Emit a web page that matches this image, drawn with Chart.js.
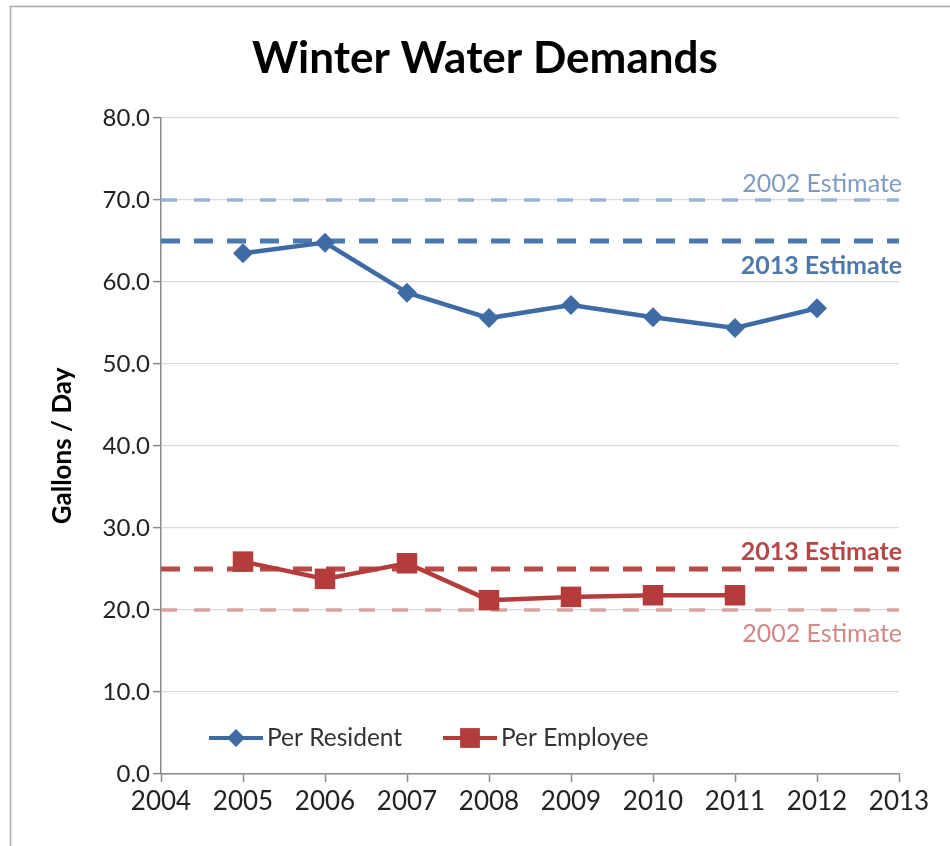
<!DOCTYPE html>
<html>
<head>
<meta charset="utf-8">
<title>Winter Water Demands</title>
<script src="https://cdn.jsdelivr.net/npm/chart.js@4.4.1/dist/chart.umd.min.js"></script>
<style>
  html, body { margin: 0; padding: 0; background: #fff; }
  #wrap { width: 950px; height: 846px; }
</style>
</head>
<body>
<div id="wrap"><canvas id="demandChart" width="950" height="846"></canvas></div>
<script>
// gallons per day, winter readings
const YEARS = [2005, 2006, 2007, 2008, 2009, 2010, 2011, 2012];
const PER_RESIDENT = [63.5, 64.8, 58.7, 55.6, 57.2, 55.7, 54.4, 56.8];
const PER_EMPLOYEE = [25.9, 23.8, 25.7, 21.2, 21.6, 21.8, 21.8]; // nothing for 2012 yet
const SERIES_NAMES = ['Per Resident', 'Per Employee'];

// planning estimates drawn as dashed reference lines
const EST_NAMES = ['2002 Estimate', '2013 Estimate', '2013 Estimate', '2002 Estimate'];
const EST_VALUES = [70, 65, 25, 20];

const X_MIN = 2004, X_MAX = 2013;
const Y_MIN = 0, Y_MAX = 80, Y_STEP = 10;

const FONT = 'Lato, "Open Sans", sans-serif';
const BLUE = '#3e6ba6';
const RED = '#b43c3b';

// look of each estimate line + where its caption sits (px from the line)
const estStyle = [
  { color: '#9bb5d6', text: '#7f9cc0', width: 3.5, dash: [16, 17], bold: false, dy: -16 },
  { color: '#4a78b0', text: '#4f78aa', width: 5, dash: [19, 14], bold: true, dy: 25 },
  { color: '#b84a48', text: '#b54846', width: 5, dash: [19, 14], bold: true, dy: -17 },
  { color: '#d9a3a2', text: '#cf8987', width: 3.5, dash: [16, 17], bold: false, dy: 24 }
];

const toPoints = (xs, ys) => ys.map((y, i) => ({ x: xs[i], y }));

const estDatasets = EST_VALUES.map((v, i) => ({
  label: EST_NAMES[i],
  data: [{ x: X_MIN, y: v }, { x: X_MAX, y: v }],
  borderColor: estStyle[i].color,
  borderWidth: estStyle[i].width,
  borderDash: estStyle[i].dash,
  pointRadius: 0,
  order: 2
}));

// white background + the thin frame on the left/top
const framePlugin = {
  id: 'frame',
  beforeDraw(chart) {
    const ctx = chart.ctx;
    ctx.save();
    ctx.fillStyle = '#fff';
    ctx.fillRect(0, 0, chart.width, chart.height);
    ctx.strokeStyle = '#a8a8a8';
    ctx.lineWidth = 1.5;
    ctx.beginPath();
    ctx.moveTo(10.5, chart.height);
    ctx.lineTo(10.5, 6.5);
    ctx.lineTo(chart.width, 6.5);
    ctx.stroke();
    ctx.restore();
  }
};

// captions next to the dashed estimate lines
const estCaptions = {
  id: 'estCaptions',
  afterDatasetsDraw(chart) {
    const { ctx, chartArea, scales } = chart;
    ctx.save();
    ctx.textAlign = 'right';
    ctx.textBaseline = 'middle';
    EST_VALUES.forEach((v, i) => {
      const st = estStyle[i];
      ctx.font = (st.bold ? 'bold ' : '') + '25px ' + FONT;
      ctx.fillStyle = st.text;
      ctx.fillText(EST_NAMES[i], chartArea.right + 3, scales.y.getPixelForValue(v) + st.dy);
    });
    ctx.restore();
  }
};

// legend sits inside the plot, near the bottom
const innerLegend = {
  id: 'innerLegend',
  afterDraw(chart) {
    const { ctx, chartArea } = chart;
    const y = chartArea.bottom - 36;
    const items = [
      { x: chartArea.left + 48, color: BLUE, style: 'rectRot', r: 9 },
      { x: chartArea.left + 282, color: RED, style: 'rect', r: 14 }
    ];
    ctx.save();
    items.forEach((it, i) => {
      ctx.strokeStyle = it.color;
      ctx.lineWidth = 4;
      ctx.beginPath();
      ctx.moveTo(it.x, y);
      ctx.lineTo(it.x + 54, y);
      ctx.stroke();
      ctx.fillStyle = it.color;
      Chart.helpers.drawPoint(ctx, { pointStyle: it.style, radius: it.r, borderWidth: 0 }, it.x + 27, y);
      ctx.font = '24.5px ' + FONT;
      ctx.fillStyle = '#333';
      ctx.textAlign = 'left';
      ctx.textBaseline = 'middle';
      ctx.fillText(SERIES_NAMES[i], it.x + 58, y);
    });
    ctx.restore();
  }
};

new Chart(document.getElementById('demandChart'), {
  type: 'line',
  data: {
    datasets: [
      {
        label: SERIES_NAMES[0],
        data: toPoints(YEARS, PER_RESIDENT),
        borderColor: BLUE,
        backgroundColor: BLUE,
        borderWidth: 4.5,
        pointStyle: 'rectRot',
        pointRadius: 10,
        pointBorderWidth: 0,
        order: 0
      },
      {
        label: SERIES_NAMES[1],
        data: toPoints(YEARS, PER_EMPLOYEE),
        borderColor: RED,
        backgroundColor: RED,
        borderWidth: 4.5,
        pointStyle: 'rect',
        pointRadius: 14.5,
        pointBorderWidth: 0,
        order: 1
      },
      ...estDatasets
    ]
  },
  options: {
    responsive: false,
    animation: false,
    layout: { padding: { left: 20, right: 0, top: 0, bottom: 0 } },
    plugins: {
      legend: { display: false },
      tooltip: { enabled: false },
      title: {
        display: true,
        text: 'Winter Water Demands',
        color: '#000',
        font: { family: FONT, size: 44, weight: 'bold' },
        padding: { top: 32, bottom: 33.2 }
      }
    },
    scales: {
      x: {
        type: 'linear',
        min: X_MIN,
        max: X_MAX,
        ticks: {
          stepSize: 1,
          color: '#222',
          padding: 4,
          font: { family: FONT, size: 26 },
          callback: v => String(v)
        },
        grid: { drawOnChartArea: false, tickLength: 8, tickColor: '#8a8a8a', tickWidth: 1.5 },
        border: { color: '#8a8a8a', width: 1.5 },
        afterFit: s => { s.height = 72; }
      },
      y: {
        min: Y_MIN,
        max: Y_MAX,
        ticks: {
          stepSize: Y_STEP,
          color: '#222',
          padding: 3,
          font: { family: FONT, size: 24 },
          callback: v => v.toFixed(1)
        },
        grid: { color: '#dadada', lineWidth: 1.2, tickLength: 8, tickColor: '#8a8a8a', tickWidth: 1.5 },
        border: { color: '#8a8a8a', width: 1.5 },
        title: {
          display: true,
          text: 'Gallons / Day',
          color: '#000',
          font: { family: FONT, size: 26, weight: 'bold' },
          padding: { top: 27, bottom: 0 }
        },
        afterFit: s => { s.width = 141; }
      },
      // empty axis that just holds the right margin
      yPad: {
        position: 'right',
        display: true,
        ticks: { display: false },
        grid: { display: false, drawTicks: false },
        border: { display: false },
        afterFit: s => { s.width = 51; }
      }
    }
  },
  plugins: [framePlugin, estCaptions, innerLegend]
});
</script>
</body>
</html>
